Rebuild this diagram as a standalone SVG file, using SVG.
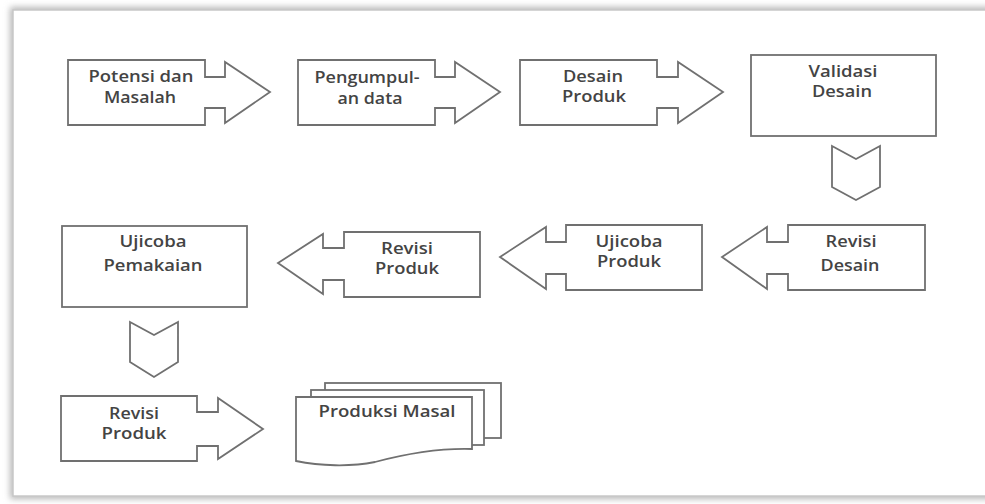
<svg xmlns="http://www.w3.org/2000/svg" width="985" height="504" viewBox="0 0 985 504">
<defs>
<filter id="sh" x="-5%" y="-5%" width="110%" height="110%">
<feGaussianBlur stdDeviation="3"/>
</filter>
</defs>
<style>
.s{fill:#fff;stroke:#707070;stroke-width:1.8;stroke-linejoin:miter}
.t{font-family:"Open Sans","Liberation Sans",sans-serif;font-size:16px;font-weight:600;fill:#444;text-anchor:middle}
</style>
<rect x="0" y="0" width="985" height="504" fill="#fff"/>
<rect x="10" y="7" width="1010" height="492" fill="#b8b8b8" filter="url(#sh)"/>
<rect x="13" y="10" width="1010" height="486" fill="#fff" stroke="#c8c8c8" stroke-width="1.5"/>

<g id="connectors">
<path class="s" d="M832,146 L856,159 L880,146 V187 L856,200 L832,187 Z"/>
<path class="s" d="M130,322 L154,335 L178,322 V362 L154,377 L130,362 Z"/>
</g>

<g id="potensi">
<path class="s" d="M68,60 H205 V77 H225 V62 L270,92 L225,123 V108 H205 V125 H68 Z"/>
<text class="t" x="141" y="82" textLength="105" lengthAdjust="spacingAndGlyphs">Potensi dan</text>
<text class="t" x="140" y="103" textLength="72" lengthAdjust="spacingAndGlyphs">Masalah</text>
</g>
<g id="pengumpulan">
<path class="s" d="M298,60 H435 V77 H455 V62 L500,92 L455,123 V108 H435 V125 H298 Z"/>
<text class="t" x="367" y="83" textLength="105" lengthAdjust="spacingAndGlyphs">Pengumpul-</text>
<text class="t" x="370" y="104" textLength="65" lengthAdjust="spacingAndGlyphs">an data</text>
</g>
<g id="desain-produk">
<path class="s" d="M520,60 H657 V77 H678 V62 L723,92 L678,123 V108 H657 V125 H520 Z"/>
<text class="t" x="593" y="82" textLength="60" lengthAdjust="spacingAndGlyphs">Desain</text>
<text class="t" x="594" y="102" textLength="64" lengthAdjust="spacingAndGlyphs">Produk</text>
</g>
<g id="validasi-desain">
<rect class="s" x="751" y="55" width="185" height="81"/>
<text class="t" x="843" y="77" textLength="69" lengthAdjust="spacingAndGlyphs">Validasi</text>
<text class="t" x="842" y="97" textLength="60" lengthAdjust="spacingAndGlyphs">Desain</text>
</g>
<g id="revisi-desain">
<path class="s" d="M925,225 H788 V242 H767 V227 L722,257 L767,289 V274 H788 V290 H925 Z"/>
<text class="t" x="851" y="247" textLength="51" lengthAdjust="spacingAndGlyphs">Revisi</text>
<text class="t" x="850" y="271" textLength="59" lengthAdjust="spacingAndGlyphs">Desain</text>
</g>
<g id="ujicoba-produk">
<path class="s" d="M702,225 H566 V242 H546 V227 L500,257 L546,289 V274 H566 V290 H702 Z"/>
<text class="t" x="629" y="247" textLength="67" lengthAdjust="spacingAndGlyphs">Ujicoba</text>
<text class="t" x="629" y="267" textLength="64" lengthAdjust="spacingAndGlyphs">Produk</text>
</g>
<g id="revisi-produk-1">
<path class="s" d="M480,232 H344 V248 H323 V234 L278,263 L323,294 V280 H344 V297 H480 Z"/>
<text class="t" x="407" y="254" textLength="52" lengthAdjust="spacingAndGlyphs">Revisi</text>
<text class="t" x="407" y="274" textLength="64" lengthAdjust="spacingAndGlyphs">Produk</text>
</g>
<g id="ujicoba-pemakaian">
<rect class="s" x="62" y="226" width="185" height="81"/>
<text class="t" x="153" y="247" textLength="67" lengthAdjust="spacingAndGlyphs">Ujicoba</text>
<text class="t" x="153" y="271" textLength="99" lengthAdjust="spacingAndGlyphs">Pemakaian</text>
</g>
<g id="revisi-produk-2">
<path class="s" d="M61,396 H197 V412 H218 V398 L263,429 L218,459 V446 H197 V461 H61 Z"/>
<text class="t" x="134" y="419" textLength="50" lengthAdjust="spacingAndGlyphs">Revisi</text>
<text class="t" x="134" y="439" textLength="65" lengthAdjust="spacingAndGlyphs">Produk</text>
</g>
<g id="produksi-masal">
<rect class="s" x="325" y="383" width="176" height="55"/>
<rect class="s" x="311" y="390" width="173" height="55"/>
<path class="s" d="M296,397 H472 V449 C440,448 405,454 375,462 C350,467 320,466 296,461 Z"/>
<text class="t" x="387" y="417" textLength="137" lengthAdjust="spacingAndGlyphs">Produksi Masal</text>
</g>
</svg>
